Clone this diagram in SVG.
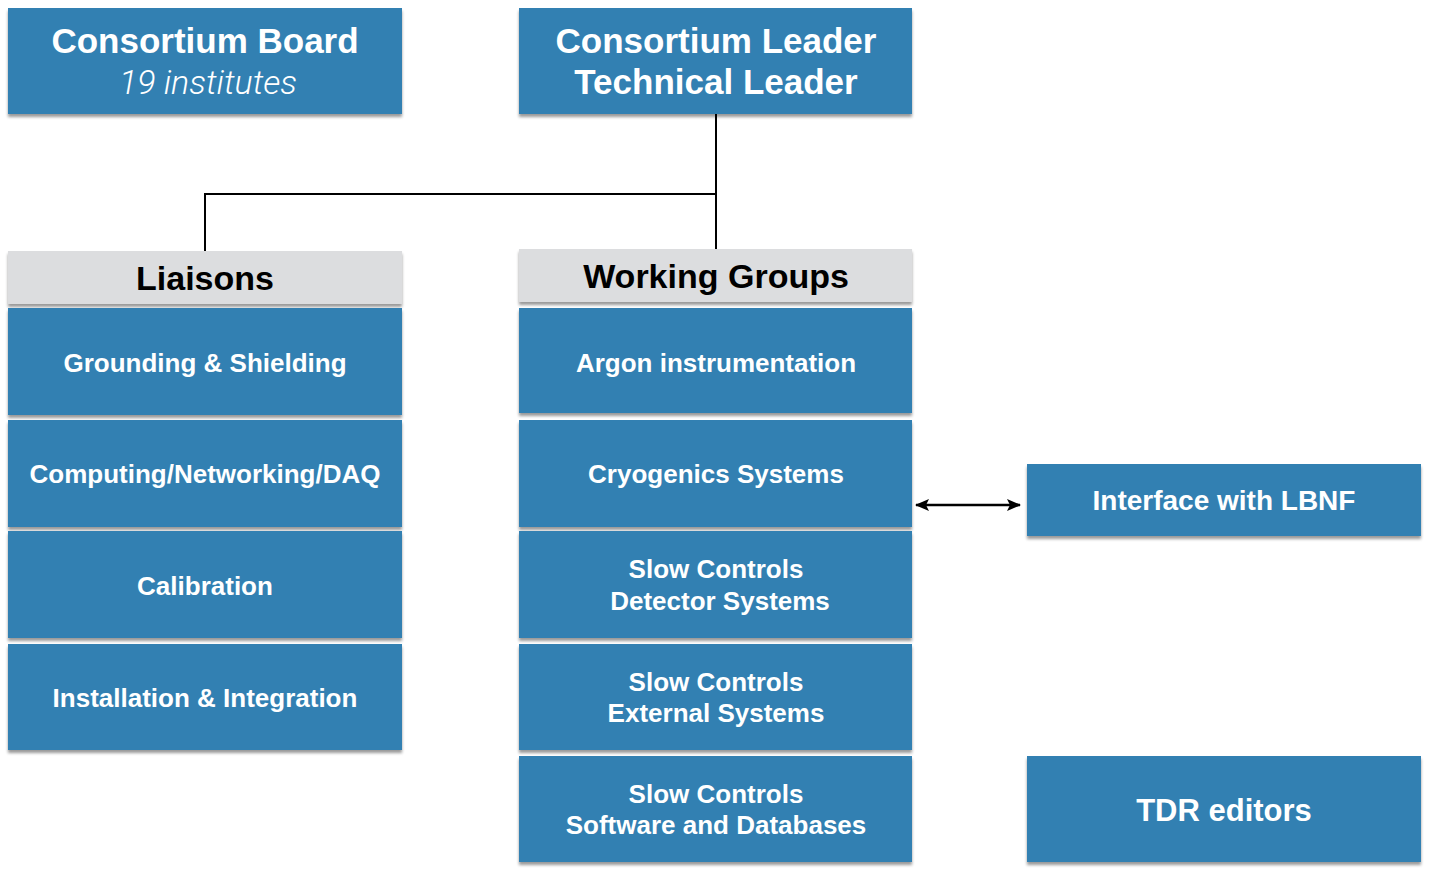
<svg xmlns="http://www.w3.org/2000/svg" width="1432" height="874" viewBox="0 0 1432 874">
<style>
.box{fill:#3180b2;filter:url(#sh)}
.hdr{fill:#dcdddf;filter:url(#sh)}
.t{font-family:"Liberation Sans",Arial,sans-serif;font-weight:bold;fill:#fff;text-anchor:middle}
.item{font-size:26px}
.big{font-size:35px}
.ht{font-family:"Liberation Sans",Arial,sans-serif;font-weight:bold;fill:#000;text-anchor:middle;font-size:34px}
.it{font-family:Roboto,"Liberation Sans",sans-serif;font-weight:300;font-style:italic;fill:#fff;text-anchor:middle;font-size:34px}
.ln{fill:none;stroke:#000;stroke-width:2}
</style>
<defs>
<filter id="sh" x="-5%" y="-10%" width="110%" height="130%">
<feDropShadow dx="0" dy="3" stdDeviation="1.5" flood-color="#000" flood-opacity="0.4"/>
</filter>
<marker id="ah" viewBox="0 0 14 12" refX="13" refY="6" markerWidth="14" markerHeight="12" orient="auto-start-reverse" markerUnits="userSpaceOnUse">
<path d="M0,0 L14,6 L0,12 L3,6 z" fill="#000"/>
</marker>
</defs>
<g id="connectors">
<path class="ln" d="M716,114 V249"/>
<path class="ln" d="M716,194 H205 V251"/>
<path d="M916,505 H1020" fill="none" stroke="#000" stroke-width="2.5" marker-start="url(#ah)" marker-end="url(#ah)"/>
</g>
<g id="board"><rect class="box" x="8" y="8" width="394" height="106"/><text class="t big" x="205" y="53">Consortium Board</text><text class="it" x="208" y="94">19 institutes</text></g>
<g id="leader"><rect class="box" x="519" y="8" width="393" height="106"/><text class="t big" x="716" y="53">Consortium Leader</text><text class="t big" x="716" y="94">Technical Leader</text></g>
<g id="liaisons"><rect class="hdr" x="8" y="251" width="394" height="53"/><text class="ht" x="205" y="290">Liaisons</text></g>
<g id="wg"><rect class="hdr" x="519" y="249" width="393" height="53"/><text class="ht" x="716" y="288">Working Groups</text></g>
<g id="l1"><rect class="box" x="8" y="308" width="394" height="107"/><text class="t item" x="205" y="372">Grounding &amp; Shielding</text></g>
<g id="l2"><rect class="box" x="8" y="420" width="394" height="107"/><text class="t item" x="205" y="483">Computing/Networking/DAQ</text></g>
<g id="l3"><rect class="box" x="8" y="531" width="394" height="107"/><text class="t item" x="205" y="595">Calibration</text></g>
<g id="l4"><rect class="box" x="8" y="644" width="394" height="106"/><text class="t item" x="205" y="707">Installation &amp; Integration</text></g>
<g id="w1"><rect class="box" x="519" y="308" width="393" height="105"/><text class="t item" x="716" y="372">Argon instrumentation</text></g>
<g id="w2"><rect class="box" x="519" y="420" width="393" height="107"/><text class="t item" x="716" y="483">Cryogenics Systems</text></g>
<g id="w3"><rect class="box" x="519" y="531" width="393" height="107"/><text class="t item" x="716" y="578">Slow Controls</text><text class="t item" x="720" y="610">Detector Systems</text></g>
<g id="w4"><rect class="box" x="519" y="644" width="393" height="106"/><text class="t item" x="716" y="691">Slow Controls</text><text class="t item" x="716" y="722">External Systems</text></g>
<g id="w5"><rect class="box" x="519" y="756" width="393" height="106"/><text class="t item" x="716" y="803">Slow Controls</text><text class="t item" x="716" y="834">Software and Databases</text></g>
<g id="lbnf"><rect class="box" x="1027" y="464" width="394" height="72"/><text class="t" font-size="28" x="1224" y="510">Interface with LBNF</text></g>
<g id="tdr"><rect class="box" x="1027" y="756" width="394" height="106"/><text class="t" font-size="31" x="1224" y="821">TDR editors</text></g>
</svg>
